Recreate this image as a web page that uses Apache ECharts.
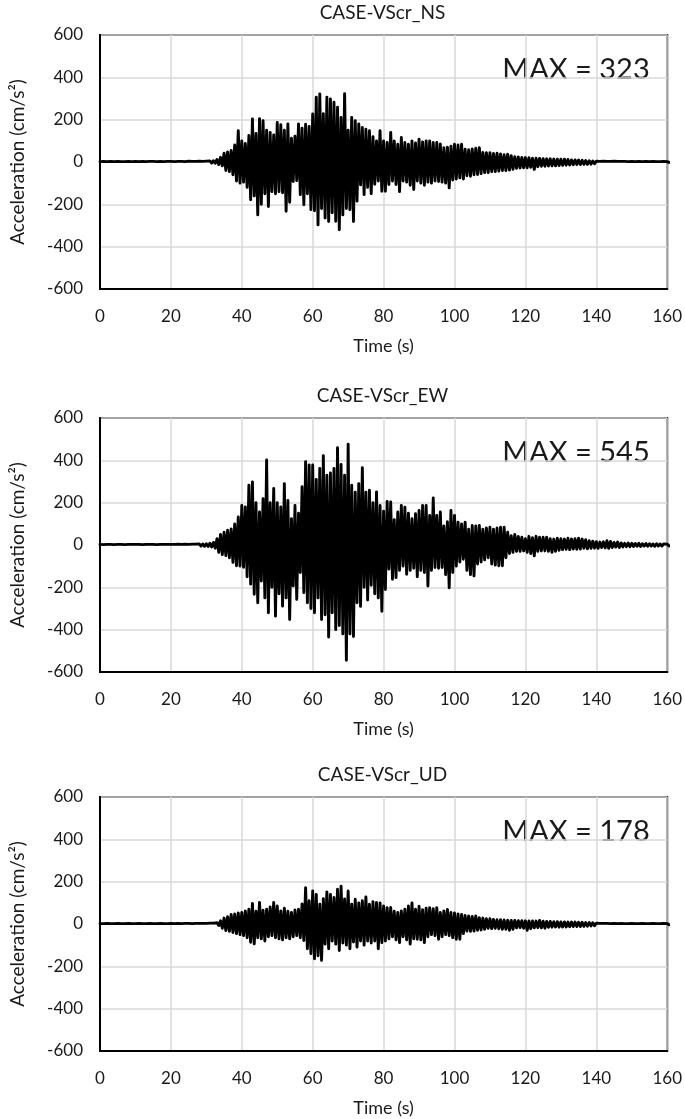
<!DOCTYPE html>
<html><head><meta charset="utf-8">
<script src="https://cdn.jsdelivr.net/npm/echarts@6/dist/echarts.min.js"></script>
<style>html,body{margin:0;padding:0;background:#fff}#c{width:685px;height:1119px}</style>
</head><body><div id="c"></div>
<script>
// ---- data ----
const panelTitles = ['CASE-VScr_NS', 'CASE-VScr_EW', 'CASE-VScr_UD'];
const maxValues = [323, 545, 178];
const xTicks = [0, 20, 40, 60, 80, 100, 120, 140, 160];
const yTicks = [-600, -400, -200, 0, 200, 400, 600];
const xAxisTitle = 'Time (s)';
const yAxisTitle = 'Acceleration (cm/s²)';

// Peak values per second (t = 0..160 s): positive peak at t, negative peak at t+0.5
const nsPos = [2,3,2,3,2,3,2,2,3,2,
 3,2,3,2,3,3,2,3,2,3,
 3,2,3,3,2,4,3,3,4,3,
 4,5,6,12,22,42,48,55,80,148,
 100,88,125,203,135,205,195,150,140,128,
 187,176,150,180,112,122,180,160,178,168,
 227,306,322,228,306,298,282,259,210,323,
 150,211,195,180,163,155,148,120,100,148,
 100,92,140,100,84,116,92,84,100,90,
 108,95,100,100,92,92,85,68,70,75,
 84,80,84,60,58,62,65,68,45,44,
 44,40,42,38,35,37,30,25,24,22,
 21,20,18,18,17,16,15,15,14,13,
 13,13,12,10,10,9,8,7,6,5,
 4,3,4,3,3,4,3,3,3,2,
 3,2,3,2,3,2,3,2,2,3,2];
const nsNeg = [-2,-3,-2,-2,-3,-2,-3,-2,-2,-3,
 -2,-3,-2,-3,-2,-3,-2,-3,-2,-3,
 -3,-3,-2,-3,-3,-3,-4,-3,-3,-4,
 -4,-5,-6,-12,-18,-40,-45,-60,-90,-100,
 -95,-120,-178,-160,-250,-200,-150,-210,-140,-150,
 -140,-145,-233,-190,-92,-88,-154,-202,-150,-225,
 -230,-297,-220,-265,-281,-240,-280,-320,-250,-220,
 -225,-281,-185,-108,-154,-120,-150,-105,-90,-138,
 -138,-106,-90,-106,-140,-90,-95,-110,-130,-90,
 -100,-110,-95,-100,-90,-92,-95,-100,-122,-85,
 -80,-75,-80,-65,-67,-60,-59,-55,-50,-50,
 -45,-45,-43,-40,-40,-38,-35,-30,-28,-27,
 -27,-25,-35,-22,-20,-20,-19,-18,-18,-17,
 -16,-15,-14,-13,-12,-12,-11,-11,-10,-8,
 -5,-4,-4,-3,-3,-4,-3,-3,-3,-3,
 -3,-2,-3,-3,-2,-3,-2,-3,-2,-3,-2];
const ewPos = [3,2,3,3,2,3,3,2,3,3,
 3,3,2,3,3,3,2,3,3,3,
 3,3,4,3,4,3,4,4,5,5,
 6,8,12,30,50,60,70,76,100,132,
 187,180,283,298,200,156,219,402,200,267,
 200,180,290,210,124,187,150,275,394,378,
 378,310,362,422,330,340,362,460,380,330,
 476,283,250,290,365,250,259,200,251,187,
 160,206,203,120,156,187,179,150,124,148,
 163,187,187,140,222,140,156,90,110,163,
 140,108,100,108,75,92,90,92,75,80,
 84,75,80,84,84,60,44,50,40,37,
 30,41,35,41,37,37,37,30,28,32,
 30,28,32,29,30,32,28,25,20,18,
 16,14,15,20,17,12,14,10,8,9,
 8,7,8,6,7,6,5,6,5,5,4];
const ewNeg = [-3,-3,-2,-3,-3,-2,-3,-3,-2,-3,
 -3,-2,-3,-3,-3,-2,-3,-3,-3,-3,
 -3,-4,-3,-3,-4,-4,-4,-5,-5,-6,
 -7,-9,-15,-35,-45,-50,-60,-82,-98,-100,
 -105,-150,-185,-233,-273,-170,-250,-320,-200,-336,
 -230,-289,-250,-352,-193,-257,-130,-225,-273,-300,
 -320,-250,-352,-330,-435,-320,-400,-380,-420,-545,
 -420,-432,-273,-290,-200,-260,-190,-230,-250,-313,
 -210,-114,-162,-154,-120,-100,-138,-120,-110,-150,
 -120,-130,-194,-120,-106,-110,-106,-140,-202,-130,
 -100,-80,-67,-120,-140,-146,-90,-80,-70,-60,
 -90,-95,-98,-98,-60,-40,-35,-30,-30,-28,
 -35,-40,-51,-30,-28,-28,-30,-35,-30,-25,
 -22,-20,-22,-19,-20,-19,-15,-18,-16,-15,
 -16,-12,-14,-16,-12,-10,-12,-9,-8,-8,
 -7,-6,-7,-5,-6,-5,-6,-5,-5,-4,-4];
const udPos = [2,2,3,2,2,3,2,2,3,2,
 2,3,2,2,3,2,2,3,2,2,
 3,2,3,2,3,3,2,3,3,3,
 3,4,4,6,15,28,35,45,47,52,
 55,62,70,97,60,102,65,70,80,102,
 85,62,75,60,55,66,70,95,172,110,
 156,140,94,120,152,140,125,164,178,118,
 156,94,117,100,110,128,94,105,102,100,
 85,77,78,60,55,62,70,85,100,70,
 84,68,75,77,72,77,55,62,69,55,
 52,48,45,40,38,36,38,30,28,25,
 25,22,20,20,19,18,17,17,16,16,
 15,14,14,14,17,13,12,12,11,11,
 10,10,9,9,9,8,8,7,7,6,
 4,3,3,3,2,3,2,3,2,2,
 3,2,2,3,2,2,3,2,2,3,2];
const udNeg = [-2,-3,-2,-2,-3,-2,-2,-3,-2,-2,
 -3,-2,-2,-3,-2,-2,-3,-2,-2,-3,
 -2,-3,-2,-3,-3,-2,-3,-3,-3,-4,
 -4,-4,-5,-7,-20,-31,-35,-40,-45,-50,
 -55,-65,-86,-94,-65,-70,-80,-60,-55,-65,
 -70,-75,-65,-70,-60,-55,-65,-78,-117,-140,
 -164,-150,-172,-95,-117,-80,-95,-125,-90,-100,
 -117,-85,-109,-80,-100,-80,-90,-80,-117,-88,
 -80,-70,-60,-75,-88,-60,-75,-95,-70,-72,
 -75,-88,-60,-50,-55,-72,-60,-50,-55,-65,
 -72,-72,-45,-33,-35,-33,-30,-28,-25,-20,
 -22,-20,-22,-25,-25,-30,-25,-18,-17,-20,
 -30,-22,-18,-17,-18,-20,-16,-15,-14,-15,
 -14,-14,-13,-12,-12,-12,-11,-10,-9,-8,
 -5,-4,-3,-3,-3,-2,-3,-2,-3,-2,
 -2,-3,-2,-2,-3,-2,-2,-3,-2,-2,-3];

// ---- layout ----
const FONT = 'Lato, "Open Sans", sans-serif';
const TXT = '#1a1a1a';
const gridTops = [35, 418, 797];
const GL = 97, GW = 571, GH = 254;

function trace(pos, neg) {
  const d = [];
  const n = Math.min(pos.length, neg.length);
  for (let k = 0; k < n; k++) {
    d.push([k, pos[k]]);
    d.push([k + 0.5, neg[k]]);
  }
  return d;
}
const traces = [trace(nsPos, nsNeg), trace(ewPos, ewNeg), trace(udPos, udNeg)];

const chart = echarts.init(document.getElementById('c'), null, {renderer: 'canvas'});
const option = {
  animation: false,
  backgroundColor: '#fff',
  title: panelTitles.map((t, i) => ({
    text: t, left: GL + GW / 2, top: gridTops[i] - 32, textAlign: 'center', padding: 0,
    textStyle: {fontFamily: FONT, fontSize: 19, fontWeight: 'normal', color: TXT}
  })),
  grid: gridTops.map(top => ({
    left: GL, top: top, width: GW, height: GH, show: true,
    borderColor: '#000', borderWidth: 2, backgroundColor: 'transparent'
  })),
  xAxis: gridTops.map((_, i) => ({
    type: 'value', gridIndex: i,
    min: xTicks[0], max: xTicks[xTicks.length - 1], interval: xTicks[1] - xTicks[0],
    name: xAxisTitle, nameLocation: 'middle', nameGap: 48,
    nameTextStyle: {fontFamily: FONT, fontSize: 18, color: TXT},
    axisLine: {show: true, onZero: false, lineStyle: {color: '#000', width: 2}},
    axisTick: {show: false},
    axisLabel: {fontFamily: FONT, fontSize: 17, color: TXT, margin: 19},
    splitLine: {show: true, lineStyle: {color: '#d9d9d9', width: 1.5}}
  })),
  yAxis: gridTops.map((_, i) => ({
    type: 'value', gridIndex: i,
    min: yTicks[0], max: yTicks[yTicks.length - 1], interval: yTicks[1] - yTicks[0],
    name: yAxisTitle, nameLocation: 'middle', nameGap: 73,
    nameTextStyle: {fontFamily: FONT, fontSize: 19, color: TXT},
    axisLine: {show: true, onZero: false, lineStyle: {color: '#000', width: 2}},
    axisTick: {show: false},
    axisLabel: {fontFamily: FONT, fontSize: 17, color: TXT, margin: 17},
    splitLine: {show: true, lineStyle: {color: '#d9d9d9', width: 1.5}}
  })),
  series: traces.map((d, i) => ({
    type: 'line', xAxisIndex: i, yAxisIndex: i, data: d,
    showSymbol: false, symbol: 'none', silent: true, clip: true,
    lineStyle: {color: '#000', width: 2.9, join: 'round', cap: 'round'},
    areaStyle: {color: '#000', opacity: 1, origin: 0}
  })),
  graphic: gridTops.map((top, i) => ({
    type: 'group', z: 100,
    children: [
      {type: 'rect', shape: {x: 490, y: top + 10, width: 175, height: 49}, style: {fill: '#fff'}},
      {type: 'text', x: 576, y: top + 35,
       style: {text: 'MAX = ' + maxValues[i], fill: TXT, font: '29px ' + FONT, align: 'center', verticalAlign: 'middle'}}
    ]
  }))
};
chart.setOption(option);
</script>
</body></html>
